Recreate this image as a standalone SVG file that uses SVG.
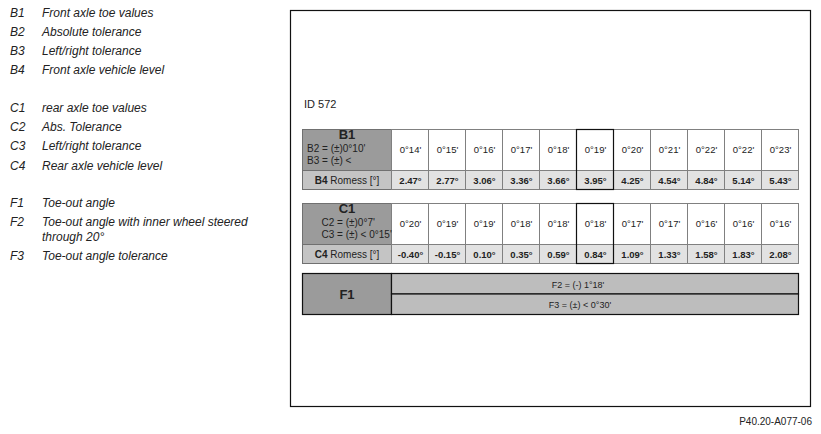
<svg xmlns="http://www.w3.org/2000/svg" width="821" height="434" viewBox="0 0 821 434">
<style>
.lg{font-family:"Liberation Sans",Arial,sans-serif;font-size:12px;font-style:italic;fill:#222}
.t{font-family:"Liberation Sans",Arial,sans-serif;fill:#222}
.v{font-size:9.5px;text-anchor:middle}
.b{font-weight:bold}
.hd{fill:#9b9b9b;stroke:#707070;stroke-width:1}
.lc{fill:#c4c4c4;stroke:#707070;stroke-width:1}
.wc{fill:#ffffff;stroke:#808080;stroke-width:1}
.gc{fill:#e2e2e2;stroke:#808080;stroke-width:1}
.hl{fill:none;stroke:#111;stroke-width:1.2}
.fk{fill:#9b9b9b;stroke:#111;stroke-width:1.2}
.fg{fill:#bdbdbd;stroke:#111;stroke-width:1.2}
</style>
<rect width="821" height="434" fill="#ffffff"/>
<g id="legend">
<text class="lg" x="10" y="17">B1</text><text class="lg" x="42" y="17">Front axle toe values</text>
<text class="lg" x="10" y="36">B2</text><text class="lg" x="42" y="36">Absolute tolerance</text>
<text class="lg" x="10" y="55">B3</text><text class="lg" x="42" y="55">Left/right tolerance</text>
<text class="lg" x="10" y="74">B4</text><text class="lg" x="42" y="74">Front axle vehicle level</text>
<text class="lg" x="10" y="112">C1</text><text class="lg" x="42" y="112">rear axle toe values</text>
<text class="lg" x="10" y="131">C2</text><text class="lg" x="42" y="131">Abs. Tolerance</text>
<text class="lg" x="10" y="150">C3</text><text class="lg" x="42" y="150">Left/right tolerance</text>
<text class="lg" x="10" y="170">C4</text><text class="lg" x="42" y="170">Rear axle vehicle level</text>
<text class="lg" x="10" y="207">F1</text><text class="lg" x="42" y="207">Toe-out angle</text>
<text class="lg" x="10" y="226">F2</text><text class="lg" x="42" y="226">Toe-out angle with inner wheel steered</text>
<text class="lg" x="42" y="241">through 20°</text>
<text class="lg" x="10" y="260">F3</text><text class="lg" x="42" y="260">Toe-out angle tolerance</text>
</g>
<g id="frame">
<rect x="290.5" y="10.5" width="520" height="396" fill="none" stroke="#111" stroke-width="1.2"/>
<text class="t" x="304" y="108" font-size="11">ID 572</text>
<text class="t" x="812" y="425" font-size="10" text-anchor="end">P40.20-A077-06</text>
</g>
<g id="table-b1">
<rect class="hd" x="302.5" y="129.5" width="89" height="41"/>
<rect class="lc" x="302.5" y="170.5" width="89" height="19"/>
<g>
<rect class="wc" x="391.5" y="129.5" width="37" height="41"/><rect class="wc" x="428.5" y="129.5" width="37" height="41"/><rect class="wc" x="465.5" y="129.5" width="37" height="41"/><rect class="wc" x="502.5" y="129.5" width="37" height="41"/><rect class="wc" x="539.5" y="129.5" width="37" height="41"/><rect class="wc" x="576.5" y="129.5" width="37" height="41"/><rect class="wc" x="613.5" y="129.5" width="37" height="41"/><rect class="wc" x="650.5" y="129.5" width="37" height="41"/><rect class="wc" x="687.5" y="129.5" width="37" height="41"/><rect class="wc" x="724.5" y="129.5" width="37" height="41"/><rect class="wc" x="761.5" y="129.5" width="37" height="41"/>
<rect class="gc" x="391.5" y="170.5" width="37" height="19"/><rect class="gc" x="428.5" y="170.5" width="37" height="19"/><rect class="gc" x="465.5" y="170.5" width="37" height="19"/><rect class="gc" x="502.5" y="170.5" width="37" height="19"/><rect class="gc" x="539.5" y="170.5" width="37" height="19"/><rect class="gc" x="576.5" y="170.5" width="37" height="19"/><rect class="gc" x="613.5" y="170.5" width="37" height="19"/><rect class="gc" x="650.5" y="170.5" width="37" height="19"/><rect class="gc" x="687.5" y="170.5" width="37" height="19"/><rect class="gc" x="724.5" y="170.5" width="37" height="19"/><rect class="gc" x="761.5" y="170.5" width="37" height="19"/>
</g>
<rect class="hl" x="576.5" y="129.5" width="37" height="60"/>
<text class="t b" x="347" y="139" font-size="13" text-anchor="middle">B1</text>
<text class="t" x="307" y="151.5" font-size="10">B2 = (±)0°10'</text>
<text class="t" x="307" y="163.5" font-size="10">B3 = (±) &lt;</text>
<text class="t" x="347" y="183.5" font-size="10" text-anchor="middle"><tspan class="b">B4</tspan> Romess [°]</text>
<g class="t v">
<text x="410.5" y="153">0°14'</text><text x="447.5" y="153">0°15'</text><text x="484.5" y="153">0°16'</text><text x="521.5" y="153">0°17'</text><text x="558.5" y="153">0°18'</text><text x="595.5" y="153">0°19'</text><text x="632.5" y="153">0°20'</text><text x="669.5" y="153">0°21'</text><text x="706.5" y="153">0°22'</text><text x="743.5" y="153">0°22'</text><text x="780.5" y="153">0°23'</text>
</g>
<g class="t v b">
<text x="410.5" y="183.5">2.47°</text><text x="447.5" y="183.5">2.77°</text><text x="484.5" y="183.5">3.06°</text><text x="521.5" y="183.5">3.36°</text><text x="558.5" y="183.5">3.66°</text><text x="595.5" y="183.5">3.95°</text><text x="632.5" y="183.5">4.25°</text><text x="669.5" y="183.5">4.54°</text><text x="706.5" y="183.5">4.84°</text><text x="743.5" y="183.5">5.14°</text><text x="780.5" y="183.5">5.43°</text>
</g>
</g>
<g id="table-c1">
<rect class="hd" x="302.5" y="203.5" width="89" height="41"/>
<rect class="lc" x="302.5" y="244.5" width="89" height="19"/>
<g>
<rect class="wc" x="391.5" y="203.5" width="37" height="41"/><rect class="wc" x="428.5" y="203.5" width="37" height="41"/><rect class="wc" x="465.5" y="203.5" width="37" height="41"/><rect class="wc" x="502.5" y="203.5" width="37" height="41"/><rect class="wc" x="539.5" y="203.5" width="37" height="41"/><rect class="wc" x="576.5" y="203.5" width="37" height="41"/><rect class="wc" x="613.5" y="203.5" width="37" height="41"/><rect class="wc" x="650.5" y="203.5" width="37" height="41"/><rect class="wc" x="687.5" y="203.5" width="37" height="41"/><rect class="wc" x="724.5" y="203.5" width="37" height="41"/><rect class="wc" x="761.5" y="203.5" width="37" height="41"/>
<rect class="gc" x="391.5" y="244.5" width="37" height="19"/><rect class="gc" x="428.5" y="244.5" width="37" height="19"/><rect class="gc" x="465.5" y="244.5" width="37" height="19"/><rect class="gc" x="502.5" y="244.5" width="37" height="19"/><rect class="gc" x="539.5" y="244.5" width="37" height="19"/><rect class="gc" x="576.5" y="244.5" width="37" height="19"/><rect class="gc" x="613.5" y="244.5" width="37" height="19"/><rect class="gc" x="650.5" y="244.5" width="37" height="19"/><rect class="gc" x="687.5" y="244.5" width="37" height="19"/><rect class="gc" x="724.5" y="244.5" width="37" height="19"/><rect class="gc" x="761.5" y="244.5" width="37" height="19"/>
</g>
<rect class="hl" x="576.5" y="203.5" width="37" height="60"/>
<text class="t b" x="347" y="213" font-size="13" text-anchor="middle">C1</text>
<text class="t" x="321.5" y="226" font-size="10">C2 = (±)0°7'</text>
<text class="t" x="321.5" y="238" font-size="10">C3 = (±) &lt; 0°15'</text>
<text class="t" x="347" y="257.5" font-size="10" text-anchor="middle"><tspan class="b">C4</tspan> Romess [°]</text>
<g class="t v">
<text x="410.5" y="227">0°20'</text><text x="447.5" y="227">0°19'</text><text x="484.5" y="227">0°19'</text><text x="521.5" y="227">0°18'</text><text x="558.5" y="227">0°18'</text><text x="595.5" y="227">0°18'</text><text x="632.5" y="227">0°17'</text><text x="669.5" y="227">0°17'</text><text x="706.5" y="227">0°16'</text><text x="743.5" y="227">0°16'</text><text x="780.5" y="227">0°16'</text>
</g>
<g class="t v b">
<text x="410.5" y="257.5">-0.40°</text><text x="447.5" y="257.5">-0.15°</text><text x="484.5" y="257.5">0.10°</text><text x="521.5" y="257.5">0.35°</text><text x="558.5" y="257.5">0.59°</text><text x="595.5" y="257.5">0.84°</text><text x="632.5" y="257.5">1.09°</text><text x="669.5" y="257.5">1.33°</text><text x="706.5" y="257.5">1.58°</text><text x="743.5" y="257.5">1.83°</text><text x="780.5" y="257.5">2.08°</text>
</g>
</g>
<g id="table-f1">
<rect class="fk" x="302.5" y="273.5" width="89" height="41"/>
<rect class="fg" x="391.5" y="273.5" width="407" height="20.5"/>
<rect class="fg" x="391.5" y="294" width="407" height="20.5"/>
<text class="t b" x="347" y="299" font-size="13" text-anchor="middle">F1</text>
<text class="t" x="578" y="287.5" font-size="9" text-anchor="middle">F2 = (-) 1°18'</text>
<text class="t" x="580" y="308" font-size="9" text-anchor="middle">F3 = (±) &lt; 0°30'</text>
</g>
</svg>
